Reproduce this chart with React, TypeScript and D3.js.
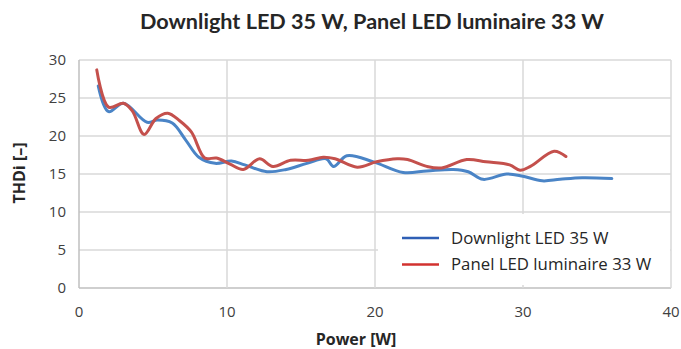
import React from "react";
import * as d3 from "d3";

const blueX = [1.3, 2.0, 3.0, 4.6, 5.3, 6.3, 7.2, 8.1, 9.2, 10.3, 11.2, 12.7, 14.0, 15.4, 16.7, 17.2, 18.1, 19.9, 21.9, 23.5, 25.3, 26.3, 27.3, 28.9, 30.0, 31.3, 32.5, 34.0, 36.0];
const blueY = [26.6, 23.2, 24.3, 21.8, 22.1, 21.7, 19.5, 17.2, 16.4, 16.7, 16.2, 15.3, 15.6, 16.4, 17.0, 16.0, 17.4, 16.6, 15.2, 15.4, 15.6, 15.3, 14.3, 15.0, 14.7, 14.1, 14.3, 14.5, 14.4];
const redX = [1.2, 2.0, 3.0, 3.6, 4.4, 5.2, 6.0, 6.8, 7.6, 8.5, 9.3, 10.2, 11.1, 12.2, 13.1, 14.3, 15.5, 16.5, 17.3, 18.8, 20.1, 21.5, 22.2, 23.5, 24.5, 26.2, 27.5, 29.1, 29.8, 30.5, 32.1, 32.9];
const redY = [28.7, 23.8, 24.3, 23.3, 20.2, 22.3, 23.0, 22.0, 20.5, 17.1, 17.1, 16.3, 15.6, 17.0, 16.0, 16.8, 16.8, 17.2, 17.0, 15.9, 16.6, 17.0, 16.9, 16.0, 15.8, 16.9, 16.6, 16.2, 15.5, 16.0, 18.0, 17.3];
const seriesNames = ["Downlight LED 35 W", "Panel LED luminaire 33 W"];
const xTicks = [0, 10, 20, 30, 40];
const yTicks = [0, 5, 10, 15, 20, 25, 30];
const title = "Downlight LED 35 W, Panel LED luminaire 33 W";
const xTitle = "Power [W]";
const yTitle = "THDi [–]";

const FONT = "'Open Sans', Lato, sans-serif";
const TFONT = "Lato, 'Open Sans', sans-serif";

export default function App() {
  const W = 681, H = 349;
  const left = 79, right = 671, top = 60, bottom = 288;
  const x = d3.scaleLinear().domain([0, 40]).range([left, right]);
  const y = d3.scaleLinear().domain([0, 30]).range([bottom, top]);
  const line = d3
    .line<[number, number]>()
    .x((d) => x(d[0]))
    .y((d) => y(d[1]))
    .curve(d3.curveCatmullRom.alpha(0.5));
  const blue = blueX.map((v, i) => [v, blueY[i]] as [number, number]);
  const red = redX.map((v, i) => [v, redY[i]] as [number, number]);
  const colors = ["#4a84c6", "#c4504c"];
  const legendColors = ["#2f5fb5", "#d2322f"];
  const grid = "#d9d9d9";

  return (
    <svg width={W} height={H} style={{ position: "absolute", left: 0, top: 0, background: "#fff" }} fontFamily={FONT}>
      <rect x={0} y={0} width={W} height={H} fill="#fff" />
      {yTicks.map((t) => (
        <line key={"gy" + t} x1={left} x2={right} y1={y(t)} y2={y(t)} stroke={t === 0 ? "#bfbfbf" : grid} strokeWidth={1.5} />
      ))}
      {xTicks.map((t) => (
        <line key={"gx" + t} x1={x(t)} x2={x(t)} y1={top} y2={bottom} stroke={t === 0 ? "#bfbfbf" : grid} strokeWidth={1.5} />
      ))}
      <path d={line(blue) || ""} fill="none" stroke={colors[0]} strokeWidth={3} strokeLinejoin="round" strokeLinecap="round" />
      <path d={line(red) || ""} fill="none" stroke={colors[1]} strokeWidth={3} strokeLinejoin="round" strokeLinecap="round" />
      {yTicks.map((t) => (
        <text key={"ty" + t} x={left - 13} y={y(t)} dy="0.35em" textAnchor="end" fontSize={15} fill="#404040">
          {t}
        </text>
      ))}
      {xTicks.map((t) => (
        <text key={"tx" + t} x={x(t)} y={bottom + 24} dy="0.35em" textAnchor="middle" fontSize={15} fill="#404040">
          {t}
        </text>
      ))}
      <text x={372} y={22} dy="0.35em" textAnchor="middle" fontSize={20.5} fontWeight="bold" fontFamily={TFONT} fill="#262626" textLength={464} lengthAdjust="spacingAndGlyphs">
        {title}
      </text>
      <text x={356} y={339} dy="0.35em" textAnchor="middle" fontSize={16} fontWeight="bold" fill="#262626">
        {xTitle}
      </text>
      <text transform={`translate(19,173) rotate(-90)`} dy="0.35em" textAnchor="middle" fontSize={16} fontWeight="bold" fill="#262626">
        {yTitle}
      </text>
      <rect x={378} y={214} width={right - 378 - 1} height={71} fill="#fff" />
      {seriesNames.map((n, i) => (
        <g key={n}>
          <line x1={402} x2={439} y1={238 + i * 26.5} y2={238 + i * 26.5} stroke={legendColors[i]} strokeWidth={2.5} />
          <text x={451} y={238 + i * 26.5} dy="0.35em" fontSize={16.8} fill="#262626">
            {n}
          </text>
        </g>
      ))}
    </svg>
  );
}
